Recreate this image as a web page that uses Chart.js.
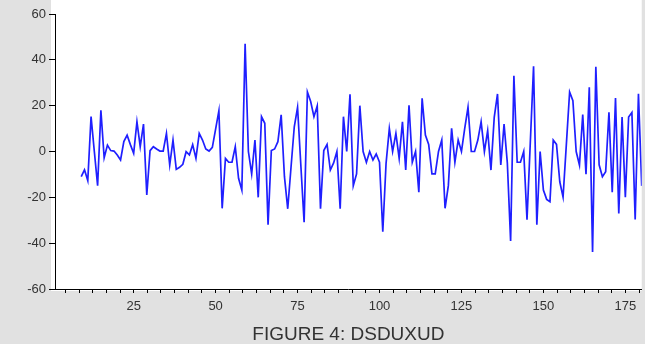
<!DOCTYPE html>
<html>
<head>
<meta charset="utf-8">
<title>FIGURE 4: DSDUXUD</title>
<script src="https://cdn.jsdelivr.net/npm/chart.js@4"></script>
<style>
  html, body { margin: 0; padding: 0; background: #e1e1e1; }
  #wrap { width: 645px; height: 344px; }
</style>
</head>
<body>
<div id="wrap"><canvas id="chart" width="645" height="344"></canvas></div>
<script>
// Series DSDUXUD, observations 9..180
const firstObs = 9;
const values = [
  -11, -8, -12.7, 15.2, 0, -14.9, 18, -2.7, 2.8, 0.4, 0.2, -1.5,
  -3.7, 4.3, 7.1, 3, -0.8, 13, 2.1, 12, -19, 0.4, 2.1, 1.1,
  0.2, 0.2, 7.9, -5.9, 5, -7.8, -6.9, -5.6, -0.1, -1.5, 3, -3,
  7.9, 5, 1.1, 0.2, 1.8, 9.8, 17.8, -24.8, -3, -4.7, -4.7, 2.1,
  -11.7, -16.8, 47, 0, -9.8, 5, -20, 15.2, 12.3, -32, 0.4, 1.1,
  4.3, 16, -11, -25, -7, 10.8, 19.3, -6, -30.9, 26, 21.8, 15.2,
  19.9, -25, 0.4, 3.1, -8.1, -5, 0, -25, 15.2, 0, 25, -14.9,
  -9.8, 20, 0, -4.7, 0, -3.7, -1.1, -4.7, -35, -5.2, 10, 0,
  7.9, -3, 13, -8.1, 20.2, -4.7, 0, -17.8, 23.2, 7.2, 3.1, -9.8,
  -9.8, 0, 5, -24.8, -14.9, 10.1, -4.7, 5, 0, 10.1, 19.3, 0,
  0, 5, 13, 0, 9.1, -8.1, 14.9, 25.1, -5.9, 12, -5, -39,
  33, -4.7, -4.7, 0, -29.8, 3.7, 37.2, -32, 0, -16.8, -20.9, -21.9,
  5, 3.1, -13.2, -19.9, 3, 26, 22.2, 0, -5.9, 16.1, -9.9, 28,
  -43.8, 37, -5.8, -11, -8.8, 17.1, -17.8, 23.3, -27, 15, -20, 15,
  17, -29.7, 25.2, -15
];
const observations = values.map((_, i) => firstObs + i);

const xRange = [1, 180];
const xLabelTicks = [25, 50, 75, 100, 125, 150, 175];
const yRange = [-60, 60];
const yStep = 20;
const titleText = 'FIGURE 4: DSDUXUD';

const points = observations.map((x, i) => ({ x: x, y: values[i] }));

// white plot area + title underneath
const frame = {
  id: 'frame',
  beforeDraw(chart) {
    const { ctx, chartArea: a } = chart;
    ctx.save();
    ctx.fillStyle = '#ffffff';
    ctx.fillRect(a.left - 4, 0, a.right - a.left + 4, a.bottom + 2);
    ctx.restore();
  },
  afterDraw(chart) {
    const { ctx, chartArea: a } = chart;
    ctx.save();
    ctx.fillStyle = '#333333';
    ctx.font = '19px "Liberation Sans", Arial, sans-serif';
    ctx.textAlign = 'center';
    ctx.textBaseline = 'middle';
    ctx.fillText(titleText, (a.left + a.right) / 2, 335);
    ctx.restore();
  }
};

const tickFont = { family: '"Liberation Sans", Arial, sans-serif', size: 13 };

new Chart(document.getElementById('chart'), {
  type: 'line',
  data: {
    datasets: [{
      data: points,
      borderColor: '#1f1fff',
      borderWidth: 1.7,
      pointRadius: 0,
      tension: 0,
      fill: false
    }]
  },
  options: {
    responsive: false,
    animation: false,
    layout: { padding: { top: 14, right: 0, left: 0, bottom: 0 } },
    plugins: { legend: { display: false }, tooltip: { enabled: false } },
    scales: {
      x: {
        type: 'linear',
        min: xRange[0],
        max: xRange[1],
        afterFit: (s) => { s.height = 55; },
        afterBuildTicks: (s) => {
          // minor ticks at 1/6 of the labelled step
          const t = [];
          for (let k = 1; k * 25 / 6 <= xRange[1]; k++) t.push({ value: k * 25 / 6 });
          s.ticks = t;
        },
        border: { display: true, color: '#000000', width: 1 },
        grid: { drawOnChartArea: false, color: '#000000', tickLength: 4 },
        ticks: {
          autoSkip: false,
          maxRotation: 0,
          padding: 6,
          color: '#333333',
          font: tickFont,
          callback: (v) => {
            const m = xLabelTicks.find(t => Math.abs(t - v) < 1e-6);
            return m === undefined ? '' : String(m);
          }
        }
      },
      y: {
        min: yRange[0],
        max: yRange[1],
        afterFit: (s) => { s.width = 55; },
        border: { display: true, color: '#000000', width: 1 },
        grid: { drawOnChartArea: false, color: '#000000', tickLength: 6 },
        ticks: {
          stepSize: yStep,
          padding: 3,
          color: '#333333',
          font: tickFont
        }
      }
    }
  },
  plugins: [frame]
});
</script>
</body>
</html>
